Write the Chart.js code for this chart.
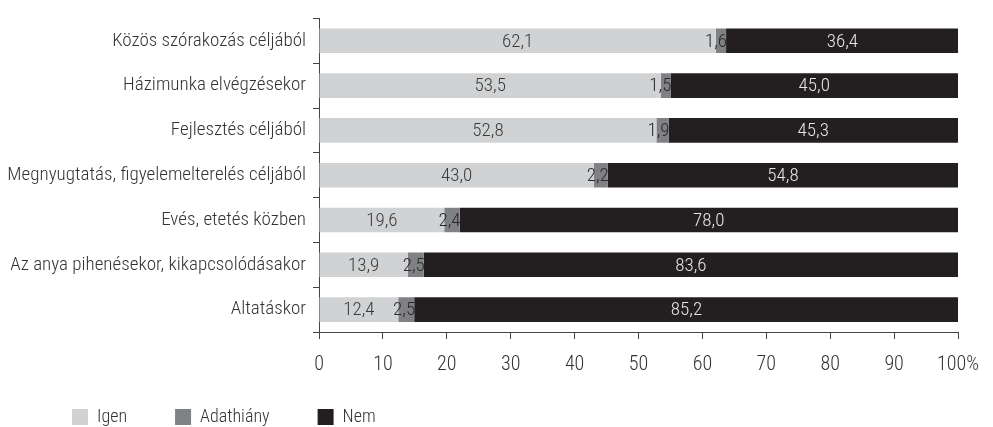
<!DOCTYPE html>
<html lang="hu">
<head>
    <meta charset="UTF-8">
    <title>Igen / Adathiány / Nem</title>
    <script src="https://cdn.jsdelivr.net/npm/chart.js@4.4.0/dist/chart.umd.min.js"></script>
    <style>
        html, body { margin: 0; padding: 0; background: #fff; }
        #wrap { width: 993px; height: 427px; position: relative; }
    </style>
</head>
<body>
<div id="wrap"><canvas id="chart"></canvas></div>
<script>
    const categories = [
        'Közös szórakozás céljából',
        'Házimunka elvégzésekor',
        'Fejlesztés céljából',
        'Megnyugtatás, figyelemelterelés céljából',
        'Evés, etetés közben',
        'Az anya pihenésekor, kikapcsolódásakor',
        'Altatáskor'
    ];
    const igen = [62.1, 53.5, 52.8, 43.0, 19.6, 13.9, 12.4];
    const adathiany = [1.6, 1.5, 1.9, 2.2, 2.4, 2.5, 2.5];
    const nem = [36.4, 45.0, 45.3, 54.8, 78.0, 83.6, 85.2];

    const FONT = "'Roboto Condensed', Roboto, sans-serif";
    const labelColors = ['#3a3a3a', '#2a2a2a', '#e6e6e6'];

    // számcímkék a szakaszokon
    const barLabels = {
        id: 'barLabels',
        afterDatasetsDraw(chart) {
            const ctx = chart.ctx;
            ctx.save();
            ctx.font = '300 19px ' + FONT;
            ctx.textBaseline = 'middle';
            chart.data.datasets.forEach((ds, i) => {
                const meta = chart.getDatasetMeta(i);
                meta.data.forEach((bar, j) => {
                    const txt = ds.data[j].toFixed(1).replace('.', ',');
                    ctx.fillStyle = labelColors[i];
                    if (i === 1) {
                        ctx.textAlign = 'right';
                        ctx.fillText(txt, bar.x + 1, bar.y + 1);
                    } else {
                        ctx.textAlign = 'center';
                        ctx.fillText(txt, (bar.x + bar.base) / 2, bar.y + 1);
                    }
                });
            });
            ctx.restore();
        }
    };

    // jelmagyarázat a tengely kezdete alá
    const legendPos = {
        id: 'legendPos',
        afterLayout(chart) {
            chart.legend.left = 24;
            chart.legend.top = 360;
        }
    };

    new Chart(document.getElementById('chart'), {
        type: 'bar',
        data: {
            labels: categories,
            datasets: [
                { label: 'Igen', data: igen, backgroundColor: '#d1d2d4' },
                { label: 'Adathiány', data: adathiany, backgroundColor: '#808184' },
                { label: 'Nem', data: nem, backgroundColor: '#231f20' }
            ]
        },
        options: {
            indexAxis: 'y',
            responsive: true,
            maintainAspectRatio: false,
            animation: false,
            barPercentage: 0.55,
            categoryPercentage: 1,
            layout: { padding: { left: 0, right: 34, top: 14, bottom: 0 } },
            plugins: {
                tooltip: { enabled: false },
                legend: {
                    position: 'bottom',
                    align: 'start',
                    maxHeight: 40,
                    labels: {
                        boxWidth: 16,
                        boxHeight: 16,
                        padding: 48,
                        color: '#333',
                        font: { family: FONT, size: 18, weight: '300' }
                    }
                }
            },
            scales: {
                x: {
                    stacked: true,
                    min: 0,
                    max: 100,
                    afterFit(scale) { scale.height = 55; },
                    ticks: {
                        stepSize: 10,
                        padding: 14,
                        color: '#333',
                        font: { family: FONT, size: 20, weight: '300' },
                        maxRotation: 0,
                        callback: v => v === 100 ? '100%' : v
                    },
                    grid: { drawOnChartArea: false, tickLength: 7, color: '#444' },
                    border: { color: '#444' }
                },
                y: {
                    stacked: true,
                    afterFit(scale) { scale.width = 319; },
                    ticks: {
                        padding: 7,
                        color: '#333',
                        font: { family: FONT, size: 19, weight: '300' }
                    },
                    grid: { drawOnChartArea: false, tickLength: 6, color: '#444' },
                    border: { color: '#444' }
                }
            }
        },
        plugins: [barLabels, legendPos]
    });
</script>
</body>
</html>
